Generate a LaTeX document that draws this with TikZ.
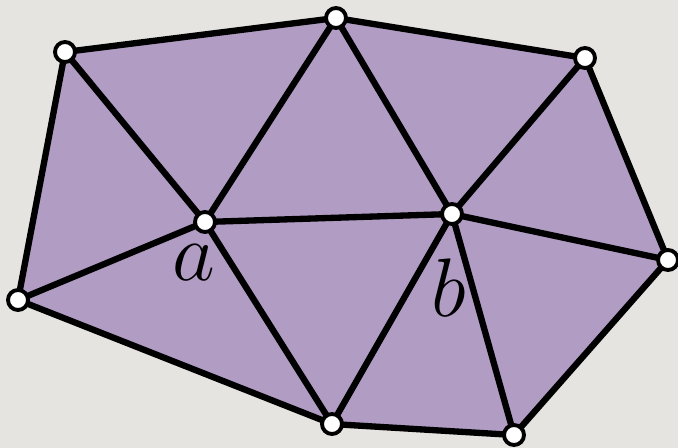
\documentclass[tikz,border=0pt]{standalone}
\usepackage{tikz}
\definecolor{paper}{HTML}{E6E4E0}
\definecolor{meshfill}{HTML}{B19CC4}

\begin{document}
\begin{tikzpicture}[x=0.02cm,y=-0.02cm,
    edge/.style={line width=3.6pt,line join=round},
    vtx/.style={circle,fill=white,draw=black,line width=2.2pt,inner sep=0pt,minimum size=0.4cm},
    lbl/.style={font=\Huge,scale=1.9}]
  % background
  \fill[paper] (0,0) rectangle (678,448);
  \useasboundingbox (0,0) rectangle (678,448);
  % vertices
  \coordinate (p1) at (65,52);
  \coordinate (p2) at (336,18);
  \coordinate (p3) at (585,58);
  \coordinate (p4) at (668,260);
  \coordinate (p5) at (514,435);
  \coordinate (p6) at (332,424);
  \coordinate (p7) at (18,300);
  \coordinate (a) at (205,222);
  \coordinate (b) at (452,214);
  % mesh
  \fill[meshfill] (p1) -- (p2) -- (p3) -- (p4) -- (p5) -- (p6) -- (p7) -- cycle;
  \draw[edge] (p1) -- (p2) -- (p3) -- (p4) -- (p5) -- (p6) -- (p7) -- cycle;
  \foreach \v in {p1,p2,p6,p7,b}
    \draw[edge] (a) -- (\v);
  \foreach \v in {p2,p3,p4,p5,p6}
    \draw[edge] (b) -- (\v);
  \foreach \v in {p1,p2,p3,p4,p5,p6,p7,a,b}
    \node[vtx] at (\v) {};
  % labels
  \node[lbl] (la) at (194,263) {$a$};
  \node[lbl] (lb) at (449,288) {$b$};
\end{tikzpicture}
\end{document}
